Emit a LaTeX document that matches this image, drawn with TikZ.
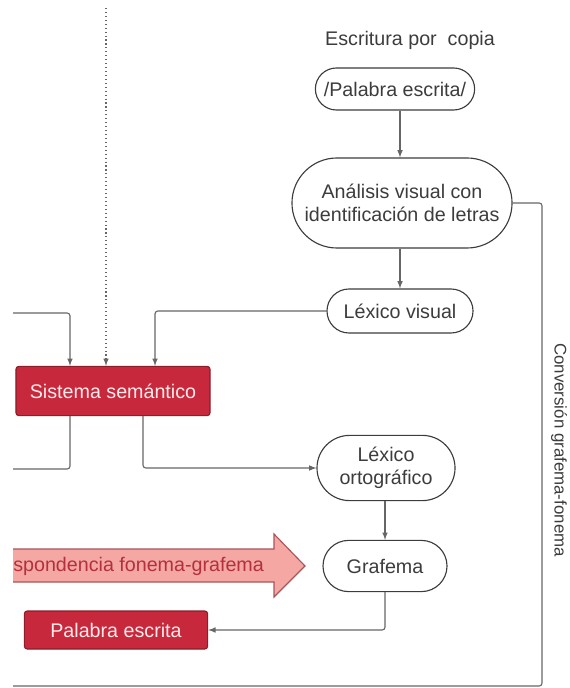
\documentclass[tikz,border=0pt]{standalone}
\usepackage{fontspec}
\setmainfont{Liberation Sans}
\usetikzlibrary{positioning,shapes,arrows}
\definecolor{linegray}{HTML}{666666}
\definecolor{textgray}{HTML}{3C3C3C}
\definecolor{semred}{HTML}{C8283C}
\definecolor{semedge}{HTML}{8A1E2A}
\definecolor{rosefill}{HTML}{F4A7A3}
\definecolor{roseedge}{HTML}{A8555A}
\definecolor{rosetext}{HTML}{B4303C}

\begin{document}
\begin{tikzpicture}[x=0.025cm, y=-0.025cm,
  font=\fontsize{14}{16}\selectfont,
  line/.style={draw=linegray, line width=0.8pt, rounded corners=2pt},
  arr/.style={line, -latex},
  route/.style={rounded rectangle, draw=textgray, line width=0.8pt,
         text=textgray, align=center, inner sep=0pt},
  semred box/.style={rectangle, rounded corners=2pt, fill=semred,
         draw=semedge, line width=0.8pt, text=white!92!red, inner sep=0pt}]
 \useasboundingbox (0,0) rectangle (570,688);

 % copia route
 \node[text=textgray] (title) at (410,40) {Escritura por~~copia};
 \node[route, minimum width=3.98cm, minimum height=1.05cm] (palabra) at (395,89) {/Palabra escrita/};
 \node[route, minimum width=5.5cm, minimum height=2.25cm] (analisis) at (402,203)
      {Análisis visual con\\identificación de letras};
 \node[route, minimum width=3.65cm, minimum height=1.1cm] (lexvis) at (400,311) {Léxico visual};
 \node[route, minimum width=3.45cm, minimum height=1.63cm] (lexort) at (386,468) {Léxico\\ortográfico};
 \node[route, minimum width=3.1cm, minimum height=1.28cm] (grafema) at (385,566) {Grafema};

 % red boxes
 \node[semred box, minimum width=4.85cm, minimum height=1.23cm] (semantico) at (113,391) {Sistema semántico};
 \node[semred box, minimum width=4.58cm, minimum height=0.95cm] (escrita) at (116,630) {Palabra escrita};

 % loose ends at the cut edge
 \coordinate (topin) at (106,8);
 \coordinate (leftin) at (13,313);
 \coordinate (leftout) at (13,469);
 \coordinate (convcorner) at (542,686);
 \coordinate (convend) at (13,686);

 \draw[arr] (palabra.south -| lexvis.north) -- (lexvis.north |- analisis.north);
 \draw[arr] (analisis.south -| lexvis.north) -- (lexvis.north);
 \draw[arr] (lexvis.west) -| ([xshift=1.05cm]semantico.north);
 \draw[arr] (leftin) -| ([xshift=-1.075cm]semantico.north);
 \draw[arr, dotted] (topin) -- (topin |- semantico.north);
 \draw[line] ([xshift=-1.075cm]semantico.south) |- (leftout);
 \draw[arr] ([xshift=0.75cm]semantico.south) |- (lexort.west);
 \draw[arr] (lexort.south -| grafema.north) -- (grafema.north);
 \draw[arr] (grafema.south) |- (escrita.east);
 \draw[line] (analisis.east) -| (convcorner) -- (convend);
 \node[rotate=-90, text=textgray, inner sep=0pt, font=\fontsize{12}{14}\selectfont] (conversion) at (559,450)
      {Conversión grafema-fonema};

 % big arrow, cut at the left edge
 \begin{scope}
  \clip (13,0) rectangle (570,688);
  \draw[fill=rosefill, draw=roseedge, line width=0.8pt]
    (-10,549) -- (274,549) -- (274,534) -- (305,566) -- (274,597) -- (274,582) -- (-10,582) -- cycle;
 \end{scope}
 \node[anchor=west, inner sep=0pt, text=rosetext] (fonema) at (13,566) {spondencia fonema-grafema};
\end{tikzpicture}
\end{document}
